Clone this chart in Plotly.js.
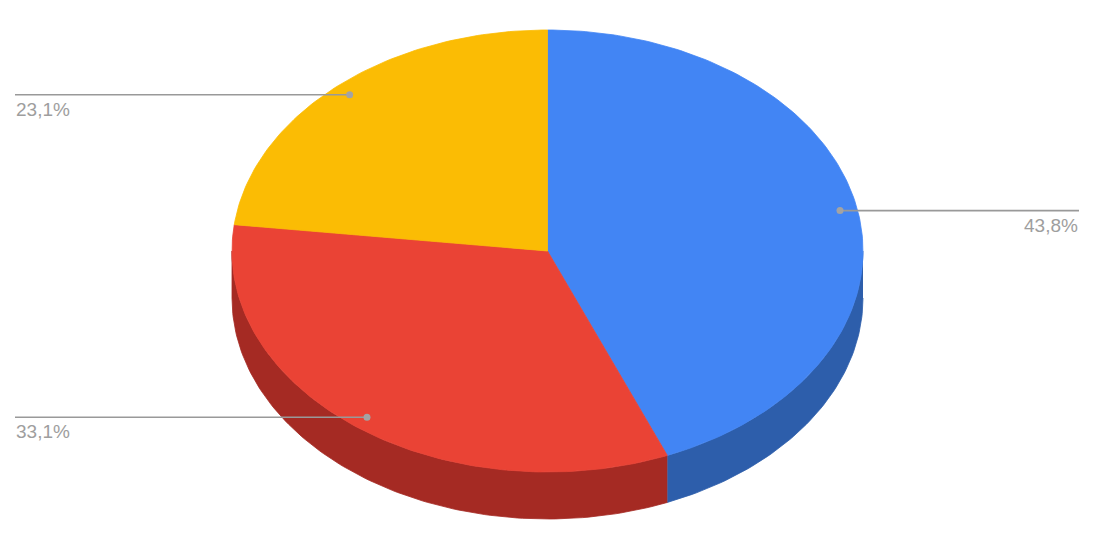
<!DOCTYPE html>
<html>
<head>
<meta charset="utf-8">
<script src="https://cdn.plot.ly/plotly-3.0.1.min.js"></script>
<style>
  html, body { margin: 0; padding: 0; background: #fff; }
  #chart { width: 1100px; height: 542px; }
</style>
</head>
<body>
<div id="chart"></div>
<script>
// slice data, clockwise from 12 o'clock
const categories = ['A', 'B', 'C'];
const values = [43.8, 33.1, 23.1];
const topColors = ['#4285f4', '#ea4335', '#fbbc04'];
const sideColors = ['#2d5eab', '#a52a23', '#b8890a'];

// tilted pie geometry (pixels, drawn on a 1100x542 axis)
const cx = 547.5, cy = 251, rx = 315.5, ry = 221, depth = 47;
const labelR = 0.945;

function pt(deg, dy) {
    const r = deg * Math.PI / 180;
    return [cx + rx * Math.sin(r), cy - ry * Math.cos(r) + (dy || 0)];
}

function arc(a, b, dy) {
    const xs = [], ys = [];
    const n = Math.max(2, Math.ceil(Math.abs(b - a) / 1));
    for (let i = 0; i <= n; i++) {
        const p = pt(a + (b - a) * i / n, dy);
        xs.push(p[0]); ys.push(p[1]);
    }
    return [xs, ys];
}

const total = values.reduce((s, v) => s + v, 0);
const sides = [], tops = [], leaders = [], annotations = [];
let start = 0;

values.forEach((v, i) => {
    const end = start + v / total * 360;

    // visible side wall (front half of the ellipse)
    const lo = Math.max(start, 90), hi = Math.min(end, 270);
    if (lo < hi) {
        const t = arc(lo, hi, 0), b = arc(hi, lo, depth);
        sides.push({
            type: 'scatter', mode: 'lines', fill: 'toself',
            x: t[0].concat(b[0]), y: t[1].concat(b[1]),
            fillcolor: sideColors[i], line: {color: sideColors[i], width: 0.8},
            hoverinfo: 'skip', showlegend: false
        });
    }

    // top face
    const a = arc(start, end, 0);
    tops.push({
        type: 'scatter', mode: 'lines', fill: 'toself',
        x: [cx].concat(a[0], [cx]), y: [cy].concat(a[1], [cy]),
        fillcolor: topColors[i], line: {color: topColors[i], width: 0.8},
        name: categories[i], hoverinfo: 'skip', showlegend: false
    });

    // leader line + dot + label
    const mid = (start + end) / 2 * Math.PI / 180;
    const dx = cx + labelR * rx * Math.sin(mid);
    const dyy = cy - labelR * ry * Math.cos(mid);
    const right = dx > cx;
    const edge = right ? 1079 : 15;
    leaders.push({
        type: 'scatter', mode: 'lines',
        x: [dx, edge], y: [dyy, dyy],
        line: {color: '#999999', width: 1.6},
        hoverinfo: 'skip', showlegend: false
    });
    leaders.push({
        type: 'scatter', mode: 'markers',
        x: [dx], y: [dyy],
        marker: {color: '#a3a3a3', size: 7},
        hoverinfo: 'skip', showlegend: false
    });
    annotations.push({
        x: edge, y: dyy + 3, xref: 'x', yref: 'y',
        xanchor: right ? 'right' : 'left', yanchor: 'top',
        text: (v / total * 100).toFixed(1).replace('.', ',') + '%',
        showarrow: false, borderpad: 0,
        font: {family: 'Liberation Sans, Arial', size: 19, color: '#9e9e9e'}
    });

    start = end;
});

const layout = {
    width: 1100, height: 542,
    margin: {l: 0, r: 0, t: 0, b: 0, pad: 0},
    paper_bgcolor: '#ffffff',
    plot_bgcolor: '#ffffff',
    xaxis: {range: [0, 1100], visible: false, fixedrange: true},
    yaxis: {range: [542, 0], visible: false, fixedrange: true},
    annotations: annotations,
    showlegend: false
};

Plotly.newPlot('chart', sides.concat(tops, leaders), layout, {displayModeBar: false, staticPlot: true});
</script>
</body>
</html>
